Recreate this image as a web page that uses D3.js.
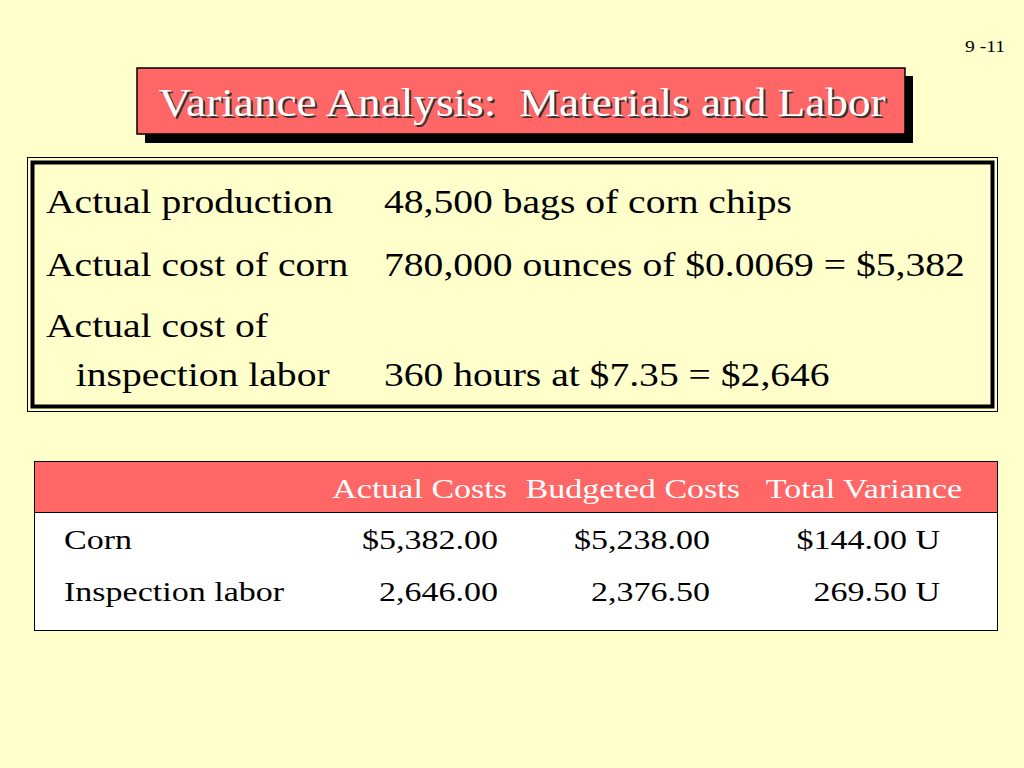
<!DOCTYPE html>
<html><head><meta charset="utf-8">
<script src="https://cdn.jsdelivr.net/npm/d3@7"></script>
<style>body{margin:0;background:#FFFFCC}svg{display:block}text{white-space:pre}</style>
</head><body>
<script>
const slideNo = "9 -11";
const title = "Variance Analysis:  Materials and Labor";
const infoLabels = [["Actual production"],["Actual cost of corn"],["Actual cost of","   inspection labor"]];
const infoValues = ["48,500 bags of corn chips","780,000 ounces of $0.0069 = $5,382","360 hours at $7.35 = $2,646"];
const headers = ["Actual Costs","Budgeted Costs","Total Variance"];
const rowLabels = ["Corn","Inspection labor"];
const actual = ["$5,382.00","2,646.00"];
const budgeted = ["$5,238.00","2,376.50"];
const variance = ["$144.00 U","269.50 U"];

const svg = d3.select("body").append("svg").attr("width",1024).attr("height",768);
svg.append("rect").attr("width",1024).attr("height",768).attr("fill","#FFFFCC");
const F = "'Liberation Serif','Times New Roman',serif";
function txt(x,y,s,size,sx,anchor,fill){
  return svg.append("text").attr("transform",`translate(${x},${y}) scale(${sx},1)`)
    .attr("text-anchor",anchor||"start").attr("font-family",F).attr("font-size",size)
    .attr("fill",fill||"#000").text(s);
}
txt(1005,52,slideNo,17,1.15,"end");

// title
svg.append("rect").attr("x",145).attr("y",76).attr("width",768).attr("height",67).attr("fill","#000");
svg.append("rect").attr("x",137).attr("y",68).attr("width",768).attr("height",66).attr("fill","#FF6666").attr("stroke","#000").attr("stroke-width",1.5);
txt(524,118,title,39,1.16,"middle","#333");
txt(522,116,title,39,1.16,"middle","#fff");

// info box
svg.append("rect").attr("x",27.5).attr("y",157.5).attr("width",970).attr("height",254).attr("fill","none").attr("stroke","#000").attr("stroke-width",1);
svg.append("rect").attr("x",32.5).attr("y",162.5).attr("width",960).attr("height",244).attr("fill","none").attr("stroke","#000").attr("stroke-width",4);
const lineY = [[213],[276],[337,386]];
infoLabels.forEach((ls,i)=>{
  ls.forEach((l,j)=>txt(46,lineY[i][j],l,33,1.2));
  txt(384,lineY[i][lineY[i].length-1],infoValues[i],33,1.2);
});

// table
svg.append("rect").attr("x",34.5).attr("y",461.5).attr("width",963).attr("height",169).attr("fill","#fff").attr("stroke","#000");
svg.append("rect").attr("x",34.5).attr("y",461.5).attr("width",963).attr("height",51).attr("fill","#FF6666").attr("stroke","#000");
const hx = [507,740,962];
headers.forEach((h,i)=>txt(hx[i],498,h,27,1.26,"end","#fff"));
const vx = [498,710,940];
const ry = d3.scalePoint().domain(rowLabels).range([549,601]);
rowLabels.forEach((r,i)=>{
  const y = ry(r);
  txt(64,y,r,27,1.26);
  [actual,budgeted,variance].forEach((col,c)=>txt(vx[c],y,col[i],27,1.26,"end"));
});
</script>
</body></html>
